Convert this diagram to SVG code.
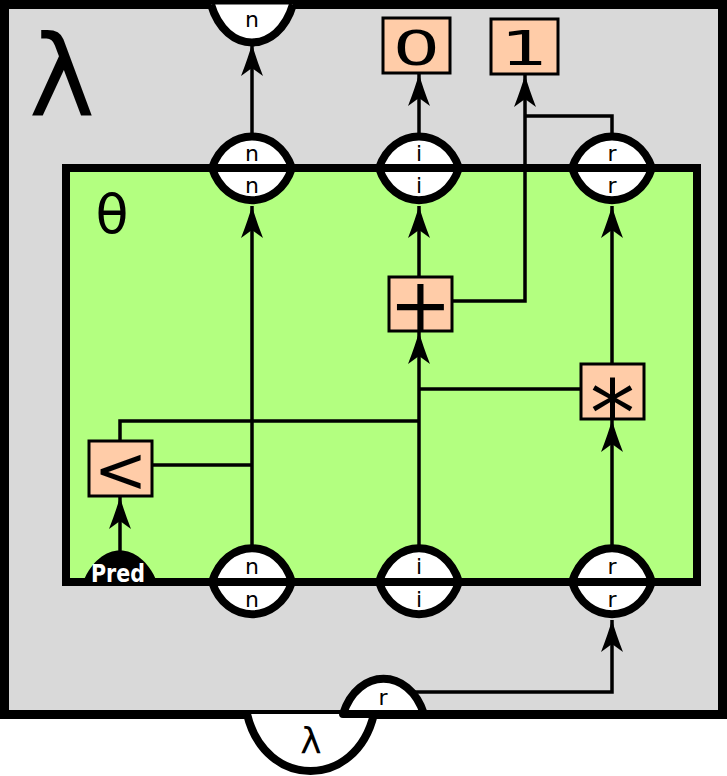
<svg xmlns="http://www.w3.org/2000/svg" width="727" height="776" viewBox="0 0 727 776">
<defs>
<marker id="arr" markerUnits="userSpaceOnUse" viewBox="-33 -12 34 24" refX="0" refY="0" markerWidth="34" markerHeight="24" orient="auto">
<path d="M0,0 Q-14,-4 -32,-11 L-24,0 L-32,11 Q-14,4 0,0 Z" fill="#000"/>
</marker>
</defs>
<style>
.frame{fill:#d9d9d9;stroke:#000;stroke-width:9}
.body{fill:#b3ff80;stroke:#000;stroke-width:8}
.port{fill:#fff;stroke:#000;stroke-width:8;stroke-linejoin:round}
.box{fill:#ffcca8;stroke:#000;stroke-width:3}
.lbl{font-family:"DejaVu Sans",sans-serif;font-size:22px;text-anchor:middle;fill:#000}
.sym{font-family:"DejaVu Sans",sans-serif;text-anchor:middle;fill:#000}
.wire{fill:none;stroke:#000;stroke-width:3.5}
.arr{marker-end:url(#arr)}
</style>
<g id="lambda-frame">
<rect class="frame" x="4.5" y="4.5" width="718" height="710"/>
<text class="sym" x="62" y="115" font-size="112">λ</text>
</g>
<g id="theta-body">
<rect class="body" x="66" y="168" width="631" height="414"/>
<text class="sym" x="112" y="233" font-size="54">θ</text>
</g>
<g id="connectors">
<path class="wire arr" d="M252,133 L252,44"/>
<path class="wire arr" d="M419,133 L419,74"/>
<path class="wire" d="M612,133 L612,116 L525,116"/>
<path class="wire arr" d="M452,301 L525,301 L525,75"/>
<path class="wire arr" d="M252,546 L252,206"/>
<path class="wire" d="M252,465 L152,465"/>
<path class="wire" d="M120,441 L120,421 L419,421"/>
<path class="wire arr" d="M419,546 L419,332"/>
<path class="wire arr" d="M419,277 L419,206"/>
<path class="wire" d="M581,389 L419,389"/>
<path class="wire arr" d="M612,546 L612,420"/>
<path class="wire arr" d="M612,364 L612,206"/>
<path class="wire arr" d="M120,552 L120,497"/>
<path class="wire arr" d="M415,692 L612,692 L612,620"/>
</g>
<g id="port-out-n">
<path class="port" d="M211,4.5 C226,55 278,55 293,4.5"/>
<text class="lbl" x="252" y="27">n</text>
</g>
<g id="port-top-n">
<path class="port" d="M212,168 C226,126 278,126 292,168 Z"/>
<path class="port" d="M212,168 C226,211 278,211 292,168 Z"/>
<text class="lbl" x="252" y="161">n</text>
<text class="lbl" x="252" y="193">n</text>
</g>
<g id="port-top-i">
<path class="port" d="M379,168 C393,126 445,126 459,168 Z"/>
<path class="port" d="M379,168 C393,211 445,211 459,168 Z"/>
<text class="lbl" x="419" y="161">i</text>
<text class="lbl" x="419" y="193">i</text>
</g>
<g id="port-top-r">
<path class="port" d="M572,168 C586,126 638,126 652,168 Z"/>
<path class="port" d="M572,168 C586,211 638,211 652,168 Z"/>
<text class="lbl" x="612" y="161">r</text>
<text class="lbl" x="612" y="193">r</text>
</g>
<g id="port-bot-n">
<path class="port" d="M212,582 C226,537 278,537 292,582 Z"/>
<path class="port" d="M212,582 C226,625 278,625 292,582 Z"/>
<text class="lbl" x="252" y="574">n</text>
<text class="lbl" x="252" y="607">n</text>
</g>
<g id="port-bot-i">
<path class="port" d="M379,582 C393,537 445,537 459,582 Z"/>
<path class="port" d="M379,582 C393,625 445,625 459,582 Z"/>
<text class="lbl" x="419" y="574">i</text>
<text class="lbl" x="419" y="607">i</text>
</g>
<g id="port-bot-r">
<path class="port" d="M572,582 C586,537 638,537 652,582 Z"/>
<path class="port" d="M572,582 C586,625 638,625 652,582 Z"/>
<text class="lbl" x="612" y="574">r</text>
<text class="lbl" x="612" y="607">r</text>
</g>
<g id="pred">
<path d="M83,582 C100,540 140,540 157,582 Z" fill="#000"/>
<text x="118" y="582" font-family="DejaVu Sans,sans-serif" font-weight="bold" font-size="25" fill="#fff" text-anchor="middle" textLength="54" lengthAdjust="spacingAndGlyphs">Pred</text>
</g>
<g id="lt">
<rect class="box" x="89" y="441" width="63" height="55"/>
<text class="sym" x="120.5" y="492" font-size="64">&lt;</text>
</g>
<g id="plus">
<rect class="box" x="389" y="277" width="63" height="54"/>
<text class="sym" x="420.5" y="331" font-size="75">+</text>
</g>
<g id="times">
<rect class="box" x="581" y="364" width="63" height="55"/>
<text class="sym" x="612.5" y="445" font-size="90">*</text>
</g>
<g id="zero">
<rect class="box" x="383" y="18" width="67" height="55"/>
<text class="sym" font-size="48" transform="translate(416.5,65) scale(1.55,1)">0</text>
</g>
<g id="one">
<rect class="box" x="491" y="19" width="67" height="55"/>
<text class="sym" font-size="48" transform="translate(524.5,65) scale(1.55,1)">1</text>
</g>
<g id="port-lambda">
<path class="port" d="M247,714 C265,790 356,790 374,714"/>
<text class="sym" x="311" y="753" font-size="36">λ</text>
</g>
<g id="port-r">
<path class="port" d="M343,714 C358,667 409,667 424,714 Z"/>
<text class="lbl" x="383" y="705">r</text>
</g>
</svg>
